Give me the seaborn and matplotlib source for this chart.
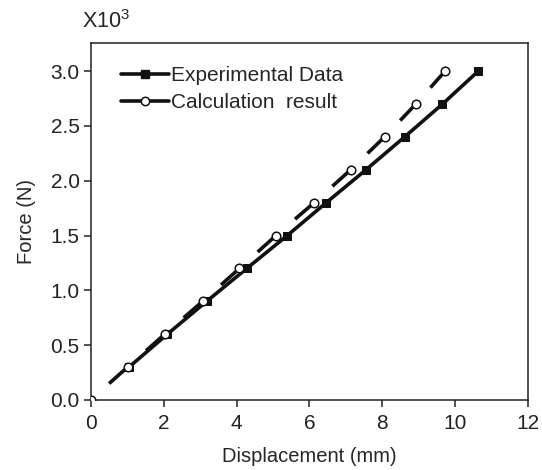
import numpy as np
import pandas as pd
import seaborn as sns
import matplotlib.pyplot as plt
from matplotlib.lines import Line2D

# values (force in kN, i.e. x10^3 N)
exp_disp = [1.05, 2.1, 3.18, 4.28, 5.39, 6.46, 7.55, 8.61, 9.65, 10.63]
exp_force = [0.3, 0.6, 0.9, 1.2, 1.5, 1.8, 2.1, 2.4, 2.7, 3.0]
calc_disp = [0.0, 1.01, 2.03, 3.07, 4.08, 5.08, 6.13, 7.13, 8.06, 8.92, 9.72]
calc_force = [0.0, 0.3, 0.6, 0.9, 1.2, 1.5, 1.8, 2.1, 2.4, 2.7, 3.0]

x_ticks = [0, 2, 4, 6, 8, 10, 12]
y_ticks = [0.0, 0.5, 1.0, 1.5, 2.0, 2.5, 3.0]

sns.set_style("ticks")
plt.rcParams['font.family'] = ['Liberation Sans', 'DejaVu Sans']
plt.rcParams['mathtext.fontset'] = 'custom'
plt.rcParams['mathtext.rm'] = 'Liberation Sans'
plt.rcParams['mathtext.it'] = 'Liberation Sans'

exp_df = pd.DataFrame({"disp": exp_disp, "force": exp_force})
calc_df = pd.DataFrame({"disp": calc_disp, "force": calc_force})

fig = plt.figure(figsize=(5.42, 4.70), dpi=100)
ax = fig.add_axes([0.1674, 0.149, 0.8070, 0.759])

lw = 2.6
ink = "#111111"
# experimental: solid line with square markers
sns.lineplot(data=exp_df, x="disp", y="force", ax=ax, color=ink,
             linewidth=lw, marker="s", markersize=5.5, markeredgecolor=ink,
             markerfacecolor=ink, sort=False, zorder=3)

# calculation: each segment drawn only on its second half (dash ending at point)
mid_x = (calc_df["disp"].values[:-1] + calc_df["disp"].values[1:]) / 2
mid_y = (calc_df["force"].values[:-1] + calc_df["force"].values[1:]) / 2
for i in range(len(mid_x)):
    ax.plot([mid_x[i], calc_disp[i + 1]], [mid_y[i], calc_force[i + 1]],
            color=ink, linewidth=lw, solid_capstyle="butt", zorder=4)
sns.scatterplot(data=calc_df, x="disp", y="force", ax=ax, marker="o", s=38,
                facecolor="white", edgecolor=ink, linewidth=1.1, zorder=5)

ax.set_xlim(0, 12)
ax.set_ylim(0, 3.255)
ax.set_xticks(x_ticks)
ax.set_yticks(y_ticks)
ax.set_yticklabels([f"{v:.1f}" for v in y_ticks])
ax.tick_params(direction="out", length=5, width=1.1, labelsize=15,
               colors="#222222", pad=3)
ax.tick_params(axis="x", pad=5)
for s in ax.spines.values():
    s.set_linewidth(1.1)
    s.set_color("#222222")
    s.set_visible(True)

ax.set_xlabel("Displacement (mm)", fontsize=14.5, labelpad=10)
ax.set_ylabel("Force (N)", fontsize=14.5, labelpad=10)

fig.text(0.152, 0.93, r"X10$^{3}$", fontsize=15.5, ha="left", va="bottom")

handles = [
    Line2D([], [], color=ink, linewidth=lw, marker="s", markersize=5.5,
           markerfacecolor=ink, markeredgecolor=ink),
    Line2D([], [], color=ink, linewidth=lw, marker="o", markersize=6,
           markerfacecolor="white", markeredgecolor=ink, markeredgewidth=1.1),
]
ax.legend(handles, ["Experimental Data", "Calculation  result"], loc="upper left",
          bbox_to_anchor=(0.07, 0.935), frameon=False, fontsize=15,
          handlelength=2.3, handletextpad=0.1, labelspacing=0.38,
          borderpad=0, borderaxespad=0)

fig.savefig("out.png", dpi=100)
plt.close(fig)
